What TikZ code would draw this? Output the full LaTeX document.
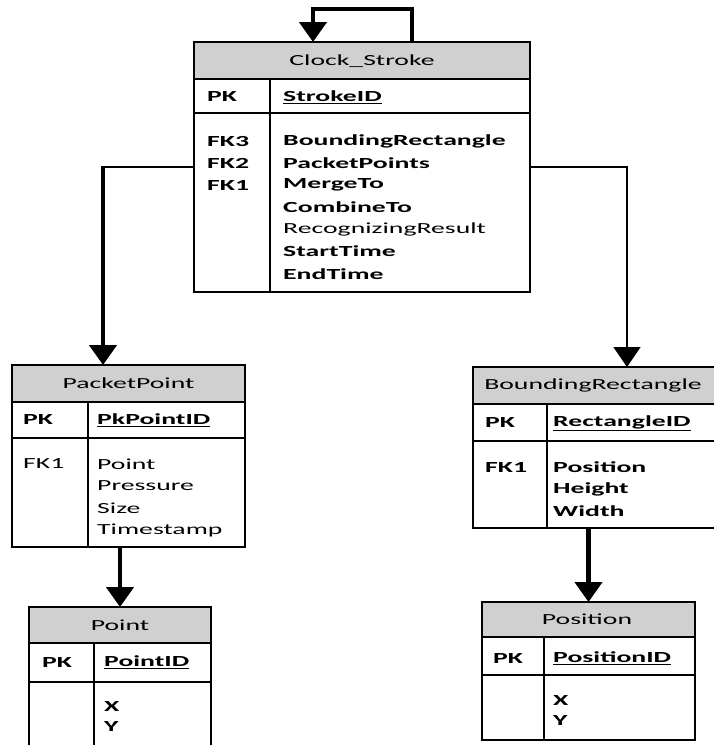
\documentclass[tikz,border=0pt]{standalone}
\usepackage{fontspec}
\setmainfont{Carlito}[FakeStretch=1.8]
\usetikzlibrary{arrows.meta,calc}
\definecolor{hdr}{RGB}{208,208,208}
\tikzset{
  tbl/.style={draw=black,line width=2.5pt,inner sep=0pt,outer sep=0pt,rectangle},
  sep/.style={line width=2.5pt},
  txt/.style={inner sep=0pt,anchor=west,font=\fontsize{15.4}{17}\selectfont},
  ttl/.style={inner sep=0pt,font=\fontsize{15.4}{17}\selectfont},
  thickarr/.style={line width=4.5pt,-{Triangle[width=27pt,length=20pt]}},
  thinarr/.style={line width=1.6pt,-{Triangle[width=27pt,length=20pt]}},
  thinline/.style={line width=1.6pt},
  loopline/.style={line width=3.5pt},
}
\newcommand{\ulx}[1]{\underline{#1}}
\begin{document}
\begin{tikzpicture}[x=1pt,y=-1pt]
\useasboundingbox (0,0) rectangle (714,745);
\clip (0,0) rectangle (714,745);
\fill[white] (0,0) rectangle (714,745);

% ---------- Clock_Stroke ----------
\fill[hdr] (194,42) rectangle (530,79);
\node[tbl,minimum width=336pt,minimum height=250pt] (cs) at (362,167) {};
\draw[sep] (194,79) -- (530,79);
\draw[sep] (194,113) -- (530,113);
\draw[sep] (270,79) -- (270,292);
\node[ttl] (csT) at (362,61) {Clock\_Stroke};
\node[txt] (csPK) at (207,97) {\bfseries PK};
\node[txt] (csID) at (283,97) {\bfseries\ulx{StrokeID}};
\node[txt] (csF3) at (207,141) {\bfseries FK3};
\node[txt] (csF2) at (207,163) {\bfseries FK2};
\node[txt] (csF1) at (207,185) {\bfseries FK1};
\node[txt] (cs1) at (283,141) {\bfseries BoundingRectangle};
\node[txt] (cs2) at (283,163) {\bfseries PacketPoints};
\node[txt] (cs3) at (283,185) {\bfseries MergeTo};
\node[txt] (cs4) at (283,207) {\bfseries CombineTo};
\node[txt] (cs5) at (283,229) {RecognizingResult};
\node[txt] (cs6) at (283,251) {\bfseries StartTime};
\node[txt] (cs7) at (283,274) {\bfseries EndTime};

% ---------- PacketPoint ----------
\fill[hdr] (12,365) rectangle (245,402);
\node[tbl,minimum width=233pt,minimum height=182pt] (pp) at (128.5,456) {};
\draw[sep] (12,402) -- (245,402);
\draw[sep] (12,438) -- (245,438);
\draw[sep] (88,402) -- (88,547);
\node[ttl] (ppT) at (128.5,383) {PacketPoint};
\node[txt] (ppPK) at (23,420) {\bfseries PK};
\node[txt] (ppID) at (97,420) {\bfseries\ulx{PkPointID}};
\node[txt] (ppF1) at (23,464) {FK1};
\node[txt] (pp1) at (97,464) {Point};
\node[txt] (pp2) at (97,486) {Pressure};
\node[txt] (pp3) at (97,508) {Size};
\node[txt] (pp4) at (97,530) {Timestamp};

% ---------- Point ----------
\fill[hdr] (29,607) rectangle (211,643);
\node[tbl,minimum width=182pt,minimum height=153pt] (pt) at (120,683.5) {};
\draw[sep] (29,643) -- (211,643);
\draw[sep] (29,682) -- (211,682);
\draw[sep] (94,643) -- (94,760);
\node[ttl] (ptT) at (120,625) {Point};
\node[txt] (ptPK) at (42,662) {\bfseries PK};
\node[txt] (ptID) at (104,662) {\bfseries\ulx{PointID}};
\node[txt] (pt1) at (104,706) {\bfseries X};
\node[txt] (pt2) at (104,726) {\bfseries Y};

% ---------- BoundingRectangle ----------
\fill[hdr] (473,367) rectangle (720,404);
\node[tbl,minimum width=247pt,minimum height=161pt] (br) at (596.5,447.5) {};
\draw[sep] (473,404) -- (720,404);
\draw[sep] (473,441) -- (720,441);
\draw[sep] (547,404) -- (547,528);
\node[ttl] (brT) at (593,385) {BoundingRectangle};
\node[txt] (brPK) at (485,423) {\bfseries PK};
\node[txt] (brID) at (553,423) {\bfseries\ulx{RectangleID}};
\node[txt] (brF1) at (485,467) {\bfseries FK1};
\node[txt] (br1) at (553,467) {\bfseries Position};
\node[txt] (br2) at (553,489) {\bfseries Height};
\node[txt] (br3) at (553,511) {\bfseries Width};

% ---------- Position ----------
\fill[hdr] (482,602) rectangle (695,637);
\node[tbl,minimum width=213pt,minimum height=138pt] (pos) at (588.5,671) {};
\draw[sep] (482,637) -- (695,637);
\draw[sep] (482,675) -- (695,675);
\draw[sep] (544,637) -- (544,740);
\node[ttl] (posT) at (587,619) {Position};
\node[txt] (posPK) at (493,658) {\bfseries PK};
\node[txt] (posID) at (553,658) {\bfseries\ulx{PositionID}};
\node[txt] (pos1) at (553,700) {\bfseries X};
\node[txt] (pos2) at (553,720) {\bfseries Y};

% ---------- connectors ----------
\coordinate (loopA) at ([xshift=50pt]cs.north);
\coordinate (loopB) at ([xshift=-49pt]cs.north);
\draw[loopline] (loopA) -- ++(0,-33) -| ($(loopB)+(0,-20)$);
\draw[thickarr] ($(loopB)+(0,-34.7)$) -- (loopB);

\coordinate (lc) at ([xshift=-25.5pt]pp.north |- cs.west);
\draw[thinline] (cs.west) -- (lc);
\draw[thickarr] ([yshift=0.8pt]lc) -- ([xshift=-25.5pt]pp.north);

\draw[thinarr] (cs.east) -| ([xshift=30.5pt]br.north);

\draw[thickarr] (pt.north |- pp.south) -- (pt.north);
\draw[thickarr] (pos.north |- br.south) -- (pos.north);
\end{tikzpicture}
\end{document}
